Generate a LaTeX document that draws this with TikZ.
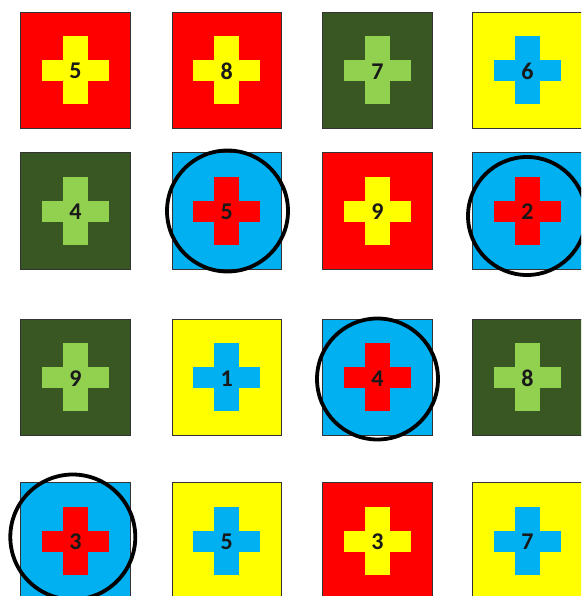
\documentclass[tikz,border=0pt]{standalone}
\usepackage{fontspec}
\setmainfont{Carlito}
\definecolor{cred}{HTML}{FF0000}
\definecolor{cyel}{HTML}{FFFF00}
\definecolor{cdg}{HTML}{385723}
\definecolor{clg}{HTML}{92D050}
\definecolor{cblue}{HTML}{00B0F0}
\tikzset{
  tilebox/.style={draw=black!80, line width=0.8pt},
  numlabel/.style={font=\bfseries\fontsize{24}{24}\selectfont, text=black!90, inner sep=0pt},
  ring/.style={draw=black, line width=3.8pt},
}
\newcommand{\mytile}[6]{%
  % #1 left x, #2 top y, #3 bg, #4 fg, #5 number, #6 name
  \fill[#3] (#1,#2) rectangle ++(109.3,116.7);
  \draw[tilebox] (#1,#2) rectangle ++(109.3,116.7);
  \coordinate (#6c) at ($(#1,#2)+(54.65,58.3)$);
  \fill[#4] ($(#6c)+(-12.5,-34)$) rectangle ($(#6c)+(12.5,34)$);
  \fill[#4] ($(#6c)+(-33.5,-10.5)$) rectangle ($(#6c)+(33.5,10.5)$);
  \node[numlabel] (#6) at ($(#6c)+(0,1)$) {#5};
}
\usetikzlibrary{calc}
\begin{document}
\begin{tikzpicture}[x=1pt,y=-1pt]
\useasboundingbox (0,0) rectangle (581,596);
\fill[white] (0,0) rectangle (581,596);
\begin{scope}
\clip (0,0) rectangle (581,596);
% row 1
\mytile{20.7}{12}{cred}{cyel}{5}{a1}
\mytile{172}{12}{cred}{cyel}{8}{a2}
\mytile{322.7}{12}{cdg}{clg}{7}{a3}
\mytile{472.7}{12}{cyel}{cblue}{6}{a4}
% row 2
\mytile{20.7}{152.7}{cdg}{clg}{4}{b1}
\mytile{172}{152.7}{cblue}{cred}{5}{b2}
\mytile{322.7}{152.7}{cred}{cyel}{9}{b3}
\mytile{472.7}{152.7}{cblue}{cred}{2}{b4}
% row 3
\mytile{20.7}{319}{cdg}{clg}{9}{c1}
\mytile{172}{319}{cyel}{cblue}{1}{c2}
\mytile{322.7}{319}{cblue}{cred}{4}{c3}
\mytile{472.7}{319}{cdg}{clg}{8}{c4}
% row 4
\mytile{20.7}{482.7}{cblue}{cred}{3}{d1}
\mytile{172}{482.7}{cyel}{cblue}{5}{d2}
\mytile{322.7}{482.7}{cred}{cyel}{3}{d3}
\mytile{472.7}{482.7}{cyel}{cblue}{7}{d4}
% circles
\draw[ring] (227.5,211) circle (60.5);
\draw[ring] (527,216) circle (59);
\draw[ring] (377.5,379) circle (60.5);
\draw[ring] (72.8,537) circle (62.5);
\end{scope}
\end{tikzpicture}
\end{document}
